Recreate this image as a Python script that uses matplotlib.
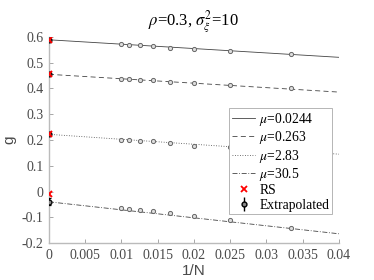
import numpy as np
import matplotlib
matplotlib.use("Agg")
import matplotlib.pyplot as plt
from matplotlib.lines import Line2D

# ─── dades llegides de la figura ───
inv_n = [0.01, 0.01111, 0.0125, 0.01429, 0.01667, 0.02, 0.025, 0.03333]
mus = ["0.0244", "0.263", "2.83", "30.5"]
g_sim = [
    [0.572, 0.570, 0.569, 0.565, 0.558, 0.552, 0.545, 0.535],
    [0.438, 0.438, 0.433, 0.432, 0.426, 0.421, 0.414, 0.402],
    [0.200, 0.200, 0.196, 0.195, 0.187, 0.177, 0.172, 0.158],
    [-0.064, -0.067, -0.073, -0.077, -0.085, -0.096, -0.112, -0.140],
]
fit_x = [0.0, 0.04]
fit_y = [
    [0.589, 0.521],
    [0.455, 0.386],
    [0.222, 0.145],
    [-0.040, -0.164],
]
rs_vals = [0.589, 0.455, 0.222, -0.010]
extrap = [0.587, 0.455, 0.222, -0.040]
extrap_err = [0.004, 0.004, 0.004, 0.014]

styles = ["-", (0, (6, 4)), (0, (1, 2)), (0, (6, 2, 1, 2))]

plt.rcParams['mathtext.fontset'] = 'stix'
SERIF = 'Liberation Serif'
GRAY = '#4a4a4a'

fig = plt.figure(figsize=(3.74, 2.8), dpi=100)
ax = fig.add_axes([0.131, 0.132, 0.775, 0.736])

handles = []
for i in range(4):
    ln, = ax.plot(fit_x, fit_y[i], color='#444444', lw=0.6, linestyle=styles[i],
                  label=r'$\mu$=' + mus[i], zorder=2)
    handles.append(ln)
    ax.plot(inv_n, g_sim[i], 'o', ms=3.0, mfc='#dddddd', mec='#666666', mew=0.7,
            linestyle='none', zorder=3)

ax.errorbar(np.zeros(4), extrap, yerr=extrap_err, fmt='o', ms=3.5, color='black',
            mfc='#888888', mec='black', mew=0.9, elinewidth=1.0, capsize=1.5, zorder=4)
ax.plot(np.zeros(4), rs_vals, 'x', color='red', ms=4.5, mew=1.4, linestyle='none', zorder=5)

rs_h = Line2D([], [], marker='x', color='red', ms=4, mew=1.3, linestyle='none')
ex_h = ax.errorbar([], [], yerr=[], fmt='o', ms=3.5, color='black', mfc='#888888',
                   elinewidth=1.0, capsize=1.5)
leg = ax.legend(handles + [rs_h, ex_h], [h.get_label() for h in handles] + ['RS', 'Extrapolated'],
                loc='upper right', bbox_to_anchor=(0.976, 0.655), prop={'family': SERIF, 'size': 9.8},
                frameon=True, fancybox=False, framealpha=1, edgecolor='#aaaaaa',
                handlelength=1.7, handletextpad=0.3, labelspacing=0.1, borderpad=0.2,
                borderaxespad=0)
leg.get_frame().set_linewidth(0.6)
leg.set_zorder(10)

ax.set_xlim(0, 0.04)
ax.set_ylim(-0.2, 0.6)
ax.set_xticks(np.arange(0, 0.0401, 0.005))
ax.set_xticklabels(['0', '0.005', '0.01', '0.015', '0.02', '0.025', '0.03', '0.035', '0.04'])
ax.set_yticks(np.arange(-0.2, 0.61, 0.1))
ax.set_yticklabels(['-0.2', '-0.1', '0', '0.1', '0.2', '0.3', '0.4', '0.5', '0.6'])
for lab in ax.get_xticklabels() + ax.get_yticklabels():
    lab.set_family(SERIF)
    lab.set_fontsize(10)
    lab.set_color(GRAY)
ax.tick_params(direction='in', length=3, width=0.6, color='#999999', pad=4)

for s in ['top', 'right']:
    ax.spines[s].set_visible(False)
for s in ['left', 'bottom']:
    ax.spines[s].set_color('#bbbbbb')
    ax.spines[s].set_linewidth(1.0)

ax.set_xlabel('1/N', fontsize=11, color=GRAY, family='Liberation Sans', labelpad=2)
ax.set_ylabel('g', fontsize=11, color=GRAY, family='Liberation Sans', labelpad=4)
ax.set_title(r'$\rho$=0.3, $\sigma_\xi^2$=10', fontsize=12, family=SERIF, pad=8)

fig.savefig('out.png', dpi=100)
